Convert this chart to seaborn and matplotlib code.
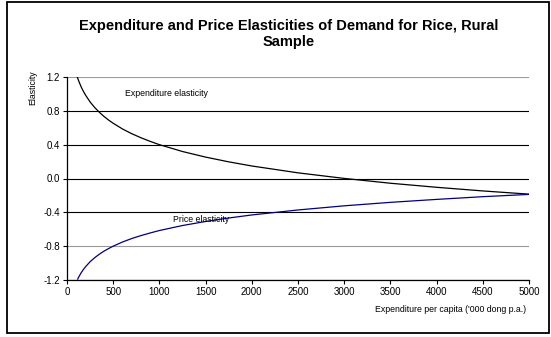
import numpy as np
import pandas as pd
import seaborn as sns
import matplotlib.pyplot as plt
from matplotlib.patches import Rectangle

# values
exp_x = [110, 125, 150, 175, 200, 250, 300, 350, 400, 450, 500, 600, 700, 800, 900, 1000,
         1250, 1500, 1750, 2000, 2500, 3000, 3500, 4000, 4500, 5000]
exp_y = [1.204, 1.158, 1.091, 1.035, 0.987, 0.905, 0.839, 0.783, 0.734, 0.691, 0.653, 0.586,
         0.530, 0.482, 0.439, 0.400, 0.319, 0.253, 0.197, 0.148, 0.067, 0.001, -0.056, -0.104,
         -0.147, -0.185]
price_x = [115, 125, 150, 175, 200, 250, 300, 350, 400, 450, 500, 600, 700, 800, 900, 1000,
           1250, 1500, 1750, 2000, 2500, 3000, 3500, 4000, 4500, 5000]
price_y = [-1.191, -1.169, -1.120, -1.079, -1.044, -0.984, -0.936, -0.895, -0.859, -0.828,
           -0.800, -0.751, -0.710, -0.675, -0.644, -0.615, -0.556, -0.508, -0.467, -0.431,
           -0.372, -0.323, -0.282, -0.247, -0.215, -0.188]
y_ticks = [-1.2, -0.8, -0.4, 0.0, 0.4, 0.8, 1.2]
x_ticks = list(range(0, 5001, 500))

sns.set_style('white')
plt.rcParams['font.family'] = ['Liberation Sans', 'DejaVu Sans']
plt.rcParams.update({'text.color': 'black', 'axes.labelcolor': 'black',
                     'xtick.color': 'black', 'ytick.color': 'black'})

df = pd.concat([
    pd.DataFrame({'x': exp_x, 'y': exp_y, 'series': 'Expenditure elasticity'}),
    pd.DataFrame({'x': price_x, 'y': price_y, 'series': 'Price elasticity'}),
])

fig = plt.figure(figsize=(5.51, 3.37), dpi=100)
ax = fig.add_axes([67 / 551, 1 - 280 / 337, 462 / 551, 203 / 337])

# horizontal gridlines
for v in y_ticks:
    c = '#9a9a9a' if v in (1.2, -0.8) else 'black'
    ax.axhline(v, color=c, lw=0.8, zorder=1)

sns.lineplot(data=df, x='x', y='y', hue='series',
             palette={'Expenditure elasticity': 'black', 'Price elasticity': '#000080'},
             lw=0.9, legend=False, ax=ax, zorder=3)

ax.set_xlim(0, 5000)
ax.set_ylim(-1.2, 1.2)
ax.set_xticks(x_ticks)
ax.set_yticks(y_ticks)
ax.set_yticklabels(['%.1f' % v for v in y_ticks])
ax.tick_params(axis='both', direction='out', length=3, width=0.8, labelsize=7, pad=2,
               bottom=True, left=True, color='black')
for s in ['top', 'right']:
    ax.spines[s].set_visible(False)
for s in ['left', 'bottom']:
    ax.spines[s].set_color('black')
    ax.spines[s].set_linewidth(0.9)
ax.set_xlabel('')
ax.set_ylabel('')

ax.text(630, 1.0, 'Expenditure elasticity', fontsize=6.3, va='center', ha='left')
ax.text(1147, -0.48, 'Price elasticity', fontsize=6.3, va='center', ha='left')

fig.text(33 / 551, 1 - 88 / 337, 'Elasticity', rotation=90, fontsize=6.3,
         ha='center', va='center')
fig.text(526 / 551, 1 - 310 / 337, "Expenditure per capita ('000 dong p.a.)",
         fontsize=6.3, ha='right', va='center')
fig.text(289 / 551, 1 - 34 / 337, 'Expenditure and Price Elasticities of Demand for Rice, Rural\nSample',
         fontsize=10.5, fontweight='bold', ha='center', va='center', linespacing=1.15)

fig.patches.append(Rectangle((7 / 551, 4 / 337), 542 / 551, 331 / 337, transform=fig.transFigure,
                             fill=False, edgecolor='black', lw=1.3))

fig.savefig('out.png', dpi=100)
